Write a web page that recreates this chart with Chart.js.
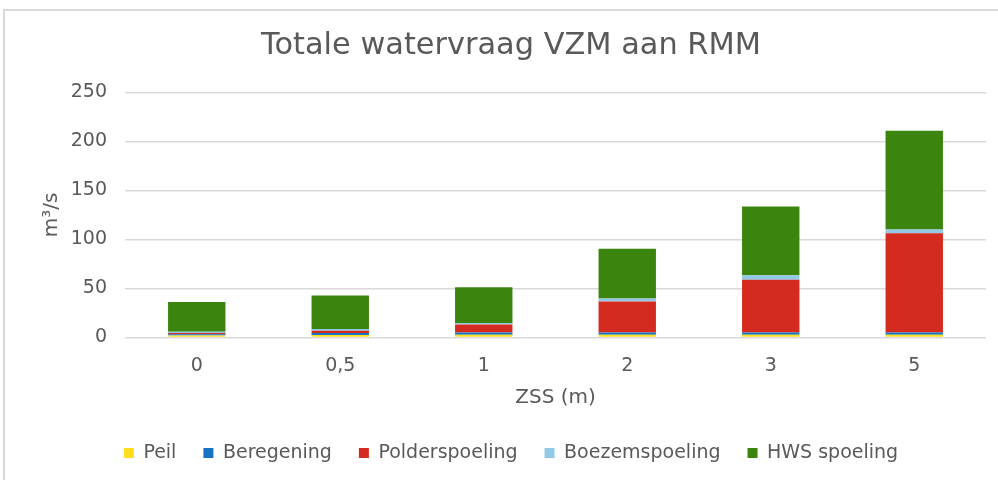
<!DOCTYPE html>
<html>
<head>
<meta charset="utf-8">
<script src="https://cdn.jsdelivr.net/npm/chart.js@4.4.1/dist/chart.umd.min.js"></script>
<style>
  html, body { margin: 0; padding: 0; background: #ffffff; overflow: hidden; }
  #frame { position: absolute; left: 3px; top: 9px; width: 1020px; height: 490px; border: 2px solid #d9d9d9; box-sizing: border-box; }
  #wrap { position: absolute; left: 4px; top: 10px; width: 1014px; height: 470px; }
</style>
</head>
<body>
<div id="frame"></div>
<div id="wrap"><canvas id="c" width="1014" height="470"></canvas></div>
<script>
const categories = ['0', '0,5', '1', '2', '3', '5'];
const peil = [2.0, 2.5, 2.7, 2.7, 2.7, 2.7];
const beregening = [1.2, 2.0, 2.4, 2.4, 2.4, 2.4];
const polderspoeling = [1.3, 2.3, 8.1, 31.6, 53.7, 101.2];
const boezemspoeling = [1.3, 2.0, 1.7, 3.0, 4.7, 4.0];
const hwsSpoeling = [30.5, 34.0, 36.3, 50.9, 70.2, 100.7];
const yTicks = [0, 50, 100, 150, 200, 250];

const textColor = '#595959';
const font = 'DejaVu Sans';

function ds(label, data, color) {
  return { label, data, backgroundColor: color, borderWidth: 0, categoryPercentage: 1.0, barPercentage: 0.4 };
}

new Chart(document.getElementById('c'), {
  type: 'bar',
  data: {
    labels: categories,
    datasets: [
      ds('Peil', peil, '#FFDD1F'),
      ds('Beregening', beregening, '#1874C3'),
      ds('Polderspoeling', polderspoeling, '#D52B1E'),
      ds('Boezemspoeling', boezemspoeling, '#92C9E6'),
      ds('HWS spoeling', hwsSpoeling, '#3B850F')
    ]
  },
  options: {
    responsive: false,
    devicePixelRatio: 1,
    animation: false,
    layout: { padding: { left: 0, right: 0, top: 0, bottom: 7.5 } },
    plugins: {
      title: {
        display: true,
        text: 'Totale watervraag VZM aan RMM',
        color: textColor,
        font: { family: font, size: 30.4, weight: 'normal', lineHeight: 1.2 },
        padding: { top: 17.5, bottom: 28.5 }
      },
      legend: {
        position: 'bottom',
        labels: {
          color: textColor,
          font: { family: font, size: 19 },
          boxWidth: 10,
          boxHeight: 10,
          padding: 27
        }
      },
      tooltip: { enabled: false }
    },
    scales: {
      x: {
        stacked: true,
        grid: { display: false, drawTicks: false },
        border: { display: false },
        ticks: { color: textColor, font: { family: font, size: 19 }, padding: 17, maxRotation: 0 },
        title: {
          display: true, text: 'ZSS (m)', color: textColor,
          font: { family: font, size: 20, lineHeight: 1.2 },
          padding: { top: 0, bottom: 7 }
        },
        afterFit(scale) { scale.height = 79; }
      },
      y: {
        stacked: true,
        min: 0, max: 250,
        afterBuildTicks(scale) { scale.ticks = yTicks.map(v => ({ value: v })); },
        grid: { color: '#d9d9d9', lineWidth: 1.5, drawTicks: false },
        border: { display: false },
        ticks: { color: textColor, font: { family: font, size: 19 }, padding: 18 },
        title: {
          display: true, text: 'm³/s', color: textColor,
          font: { family: font, size: 20, lineHeight: 1.2 },
          padding: { top: 36, bottom: 0 }
        },
        afterFit(scale) { scale.width = 121; }
      },
      rightSpace: {
        position: 'right',
        display: true,
        grid: { display: false, drawTicks: false },
        border: { display: false },
        ticks: { display: false },
        afterFit(scale) { scale.width = 32; }
      }
    }
  }
});
</script>
</body>
</html>
